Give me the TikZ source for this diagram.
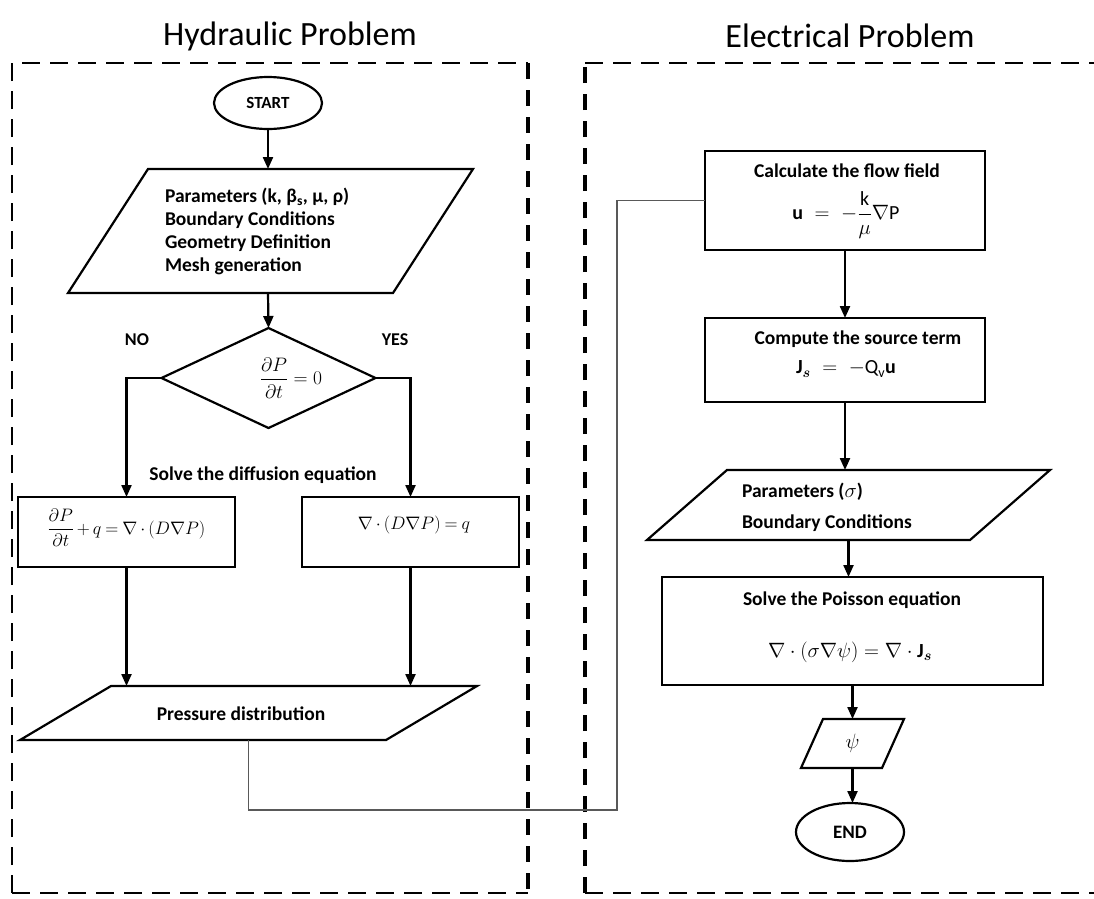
\documentclass[tikz,border=0pt]{standalone}
\usepackage{amsmath}
\usepackage{fontspec}
\setmainfont{Carlito}
\usetikzlibrary{shapes.geometric,arrows.meta,calc}
\newcommand{\myparallelo}[2]{\draw[shp] ($(#1.south west)+(-#2,0)$) -- ($(#1.north west)+(#2,0)$) -- ($(#1.north east)+(#2,0)$) -- ($(#1.south east)+(-#2,0)$) -- cycle;}
\newcommand{\tightmath}{\thickmuskip=4mu\relax\medmuskip=3mu\relax}
\begin{document}
\begin{tikzpicture}[x=1pt,y=-1pt,
  every node/.style={inner sep=0pt, outer sep=0pt},
  shp/.style={draw, line width=2.2pt},
  txt/.style={font=\fontsize{19.5}{23}\selectfont\bfseries},
  stxt/.style={font=\fontsize{18}{20}\selectfont\bfseries},
  eq/.style={font=\fontsize{20}{24}\selectfont},
  eqs/.style={eq, scale=0.87},
  title/.style={font=\fontsize{34}{40}\selectfont},
  arr/.style={line width=2.2pt, -{Triangle[length=12pt,width=10pt]}},
  conn/.style={line width=1.2pt, draw=black!65},
  dthin/.style={line width=2.4pt, dash pattern=on 18pt off 10pt},
  dthick/.style={line width=4pt, dash pattern=on 16pt off 11pt}]
\useasboundingbox (0,0) rectangle (1094,898);
% titles
\node[title] (t1) at (290,36) {Hydraulic Problem};
\node[title] (t2) at (850,36) {Electrical Problem};
% dashed frames
\draw[dthin] (12,893) -- (12,63) -- (528,63);
\draw[dthick] (528,63) -- (528,893);
\draw[dthin] (12,893) -- (528,893);
\draw[dthick] (585,893) -- (585,63);
\draw[dthin] (585,63) -- (1094,63);
\draw[dthin] (585,893) -- (1094,893);
% left column
\node[shp, ellipse, minimum width=108pt, minimum height=52pt, font=\fontsize{17}{19}\selectfont\bfseries] (start) at (268,103) {START};
\node[minimum width=325pt, minimum height=124pt] (par1) at (270.5,231) {};
\myparallelo{par1}{40}
\node[txt, anchor=west, align=left] (par1t) at (165,231.5) {Parameters (k, β\textsubscript{s}, μ, ρ)\\Boundary Conditions\\Geometry Definition\\Mesh generation};
\node[shp, diamond, aspect=2.14, minimum width=214pt, minimum height=100pt] (dia) at (268.5,378) {};
\node[eq, scale=0.94] (diat) at (291,378) {$\displaystyle\frac{\partial P}{\partial t}=0$};
\node[stxt] (no) at (137,340) {NO};
\node[stxt] (yes) at (395,340) {YES};
\node[txt] (solve) at (263,475) {Solve the diffusion equation};
\node[shp, minimum width=217pt, minimum height=70pt] (boxL) at (126.5,532) {};
\node[eqs] (boxLt) at (126.5,528) {$\tightmath\displaystyle\frac{\partial P}{\partial t}+q=\nabla\cdot(D\nabla P)$};
\node[shp, minimum width=217pt, minimum height=70pt] (boxR) at (410.5,532) {};
\node[eqs] (boxRt) at (414,525) {$\tightmath\nabla\cdot(D\nabla P)=q$};
\node[minimum width=366pt, minimum height=54pt] (pres) at (248.5,713) {};
\myparallelo{pres}{45.5}
\node[txt] (prest) at (241,714) {Pressure distribution};
% right column
\node[shp, minimum width=280pt, minimum height=99pt] (flow) at (845,200.5) {};
\node[txt] (flowt) at (847,171) {Calculate the flow field};
\node[eq] (flowe) at (846,215) {$\mathbf{u}\;=\;-\dfrac{\mathrm{k}}{\mu}\nabla\mathrm{P}$};
\node[shp, minimum width=280pt, minimum height=84pt] (src) at (845,360) {};
\node[txt] (srct) at (858,339) {Compute the source term};
\node[eq] (srce) at (846,369) {$\mathbf{J}_{\boldsymbol{s}}\;=\;-\mathrm{Q}_{\mathrm{v}}\mathbf{u}$};
\node[minimum width=323pt, minimum height=70pt] (par2) at (848.5,505) {};
\myparallelo{par2}{40}
\node[txt, anchor=west, align=left, font=\fontsize{19.5}{31}\selectfont\bfseries] (par2t) at (742,507.5) {Parameters ($\sigma$)\\Boundary Conditions};
\node[shp, minimum width=381pt, minimum height=108pt] (poi) at (852.5,631) {};
\node[txt] (poit) at (852,600) {Solve the Poisson equation};
\node[eq] (poie) at (850,652) {$\nabla\cdot(\sigma\nabla\psi)=\nabla\cdot\mathbf{J}_{\boldsymbol{s}}$};
\node[minimum width=81pt, minimum height=49pt, eq] (psi) at (852.5,743.5) {$\psi$};
\myparallelo{psi}{11}
\node[shp, ellipse, minimum width=108pt, minimum height=58pt, font=\fontsize{19}{21}\selectfont\bfseries] (end) at (850,832) {END};
% connectors
\draw[arr] (start.south) -- (start.south |- par1.north);
\draw[arr] (start.south |- par1.south) -- (dia.north);
\draw[arr] (dia.west) -| (boxL.north);
\draw[arr] (dia.east) -| (boxR.north);
\draw[arr] (boxL.south) -- (boxL.south |- pres.north);
\draw[arr] (boxR.south) -- (boxR.south |- pres.north);
\coordinate (jog) at (617,810);
\draw[conn] (pres.south) |- (jog) |- (flow.west);
\draw[arr] (flow.south) -- (flow.south |- src.north);
\draw[arr] (src.south) -- (src.south |- par2.north);
\draw[arr] (par2.south) -- (par2.south |- poi.north);
\draw[arr] (poi.south) -- (poi.south |- psi.north);
\draw[arr] (poi.south |- psi.south) -- (poi.south |- end.north);
\end{tikzpicture}
\end{document}
